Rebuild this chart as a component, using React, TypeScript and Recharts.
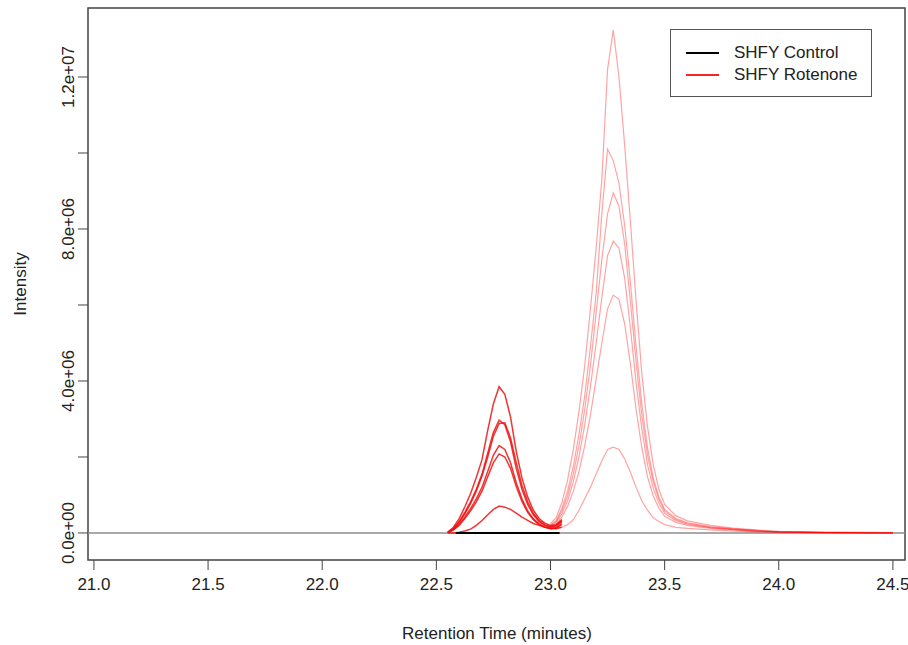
import { LineChart, Line, XAxis, YAxis, ReferenceLine, ReferenceArea } from "recharts";

// retention times (minutes) for the first feature window
const RT_FEATURE1 = [
  22.55, 22.575, 22.6, 22.625, 22.65, 22.675, 22.7, 22.725, 22.75, 22.775, 22.8,
  22.825, 22.85, 22.875, 22.9, 22.925, 22.95, 22.975, 23.0, 23.025, 23.05,
];

// rotenone intensities, feature 1 (x 1e6)
const ROT1_A = [0.02, 0.15, 0.38, 0.69, 1.04, 1.46, 1.93, 2.7, 3.4, 3.85, 3.65, 3.05, 2.15, 1.45, 0.95, 0.6, 0.38, 0.26, 0.2, 0.22, 0.35];
const ROT1_B = [0.02, 0.12, 0.3, 0.55, 0.82, 1.15, 1.55, 2.1, 2.65, 2.97, 2.85, 2.4, 1.7, 1.15, 0.75, 0.48, 0.3, 0.2, 0.16, 0.18, 0.3];
const ROT1_C = [0.01, 0.1, 0.28, 0.5, 0.78, 1.1, 1.5, 2.0, 2.55, 2.88, 2.9, 2.5, 1.85, 1.25, 0.82, 0.52, 0.33, 0.22, 0.17, 0.2, 0.32];
const ROT1_D = [0.01, 0.09, 0.23, 0.42, 0.64, 0.9, 1.2, 1.62, 2.05, 2.3, 2.2, 1.85, 1.32, 0.9, 0.58, 0.37, 0.24, 0.16, 0.12, 0.14, 0.25];
const ROT1_E = [0.01, 0.08, 0.2, 0.38, 0.58, 0.82, 1.1, 1.48, 1.85, 2.08, 2.0, 1.7, 1.22, 0.83, 0.54, 0.35, 0.22, 0.15, 0.11, 0.13, 0.22];
const ROT1_F = [0.0, 0.0, 0.02, 0.05, 0.1, 0.2, 0.33, 0.48, 0.62, 0.71, 0.68, 0.62, 0.52, 0.42, 0.33, 0.25, 0.2, 0.16, 0.13, 0.12, 0.15];

// control, feature 1 window
const RT_CONTROL = [22.585, 22.7, 22.8, 22.9, 23.0, 23.04];
const CONTROL = [0, 0, 0, 0, 0, 0];

// retention times for the second feature window
const RT_FEATURE2 = [
  23.0, 23.025, 23.05, 23.075, 23.1, 23.125, 23.15, 23.175, 23.2, 23.225, 23.25,
  23.275, 23.3, 23.325, 23.35, 23.375, 23.4, 23.425, 23.45, 23.475, 23.5, 23.55,
  23.6, 23.7, 23.8, 23.9, 24.0, 24.2, 24.5,
];

// rotenone intensities, feature 2 (x 1e6)
const ROT2_A = [0.25, 0.4, 0.8, 1.4, 2.2, 3.2, 4.4, 5.9, 7.5, 9.3, 12.2, 13.24, 12.0, 10.2, 8.2, 6.1, 4.2, 2.8, 1.8, 1.15, 0.75, 0.45, 0.32, 0.2, 0.13, 0.08, 0.04, 0.02, 0.01];
const ROT2_B = [0.22, 0.33, 0.65, 1.1, 1.75, 2.6, 3.6, 4.9, 6.3, 8.4, 10.1, 9.8, 9.2, 8.1, 6.6, 4.9, 3.4, 2.25, 1.45, 0.95, 0.62, 0.38, 0.27, 0.17, 0.11, 0.07, 0.03, 0.015, 0.01];
const ROT2_C = [0.2, 0.3, 0.58, 0.98, 1.55, 2.3, 3.25, 4.4, 5.8, 7.2, 8.4, 8.95, 8.6, 7.6, 6.1, 4.5, 3.1, 2.05, 1.35, 0.88, 0.58, 0.35, 0.25, 0.15, 0.1, 0.06, 0.03, 0.01, 0.0];
const ROT2_D = [0.18, 0.27, 0.5, 0.85, 1.35, 2.0, 2.85, 3.85, 5.0, 6.2, 7.3, 7.68, 7.5, 6.7, 5.4, 3.95, 2.75, 1.8, 1.18, 0.78, 0.52, 0.32, 0.23, 0.14, 0.09, 0.05, 0.03, 0.01, 0.0];
const ROT2_E = [0.15, 0.22, 0.42, 0.7, 1.1, 1.62, 2.3, 3.1, 4.05, 5.0, 5.9, 6.26, 6.15, 5.5, 4.45, 3.25, 2.25, 1.48, 0.98, 0.65, 0.44, 0.28, 0.2, 0.12, 0.08, 0.04, 0.02, 0.01, 0.0];
const ROT2_F = [0.1, 0.1, 0.15, 0.22, 0.35, 0.6, 0.9, 1.2, 1.55, 1.9, 2.2, 2.26, 2.2, 1.95, 1.6, 1.2, 0.85, 0.6, 0.4, 0.3, 0.22, 0.15, 0.12, 0.08, 0.05, 0.03, 0.02, 0.01, 0.0];

const X_TICKS = [21.0, 21.5, 22.0, 22.5, 23.0, 23.5, 24.0, 24.5];
const Y_TICKS = [0, 2, 4, 6, 8, 10, 12];
const Y_LABELED = [0, 4, 8, 12];

const X_DOMAIN: [number, number] = [20.974, 24.553];
const Y_DOMAIN: [number, number] = [-0.711, 13.816];

const FONT = "'Liberation Sans', Arial, sans-serif";
const TEXT = "#222";

const toPoints = (times: number[], values: number[]) =>
  times.map((t, i) => ({ t, v: values[i] }));

const feature1 = [ROT1_A, ROT1_B, ROT1_C, ROT1_D, ROT1_E, ROT1_F];
const feature2 = [ROT2_A, ROT2_B, ROT2_C, ROT2_D, ROT2_E, ROT2_F];

// R style scientific label, e.g. 4.0e+06
function sci(v: number) {
  const n = v * 1e6;
  if (n === 0) return "0.0e+00";
  const e = Math.floor(Math.log10(n));
  const m = n / Math.pow(10, e);
  return `${m.toFixed(1)}e+${String(e).padStart(2, "0")}`;
}

function YTick(props: any) {
  const { x, y, payload } = props;
  if (!Y_LABELED.includes(payload.value)) return null;
  return (
    <text
      x={x}
      y={y}
      transform={`rotate(-90, ${x}, ${y})`}
      textAnchor="middle"
      fontSize={17}
      fontFamily={FONT}
      fill={TEXT}
    >
      {sci(payload.value)}
    </text>
  );
}

export default function App() {
  return (
    <div
      style={{
        position: "fixed",
        left: 0,
        top: 0,
        width: 908,
        height: 645,
        background: "#fff",
        fontFamily: FONT,
      }}
    >
      <LineChart width={908} height={645} margin={{ top: 8, right: 3, bottom: 0, left: 0 }}>
        <XAxis
          type="number"
          dataKey="t"
          domain={X_DOMAIN}
          allowDataOverflow
          ticks={X_TICKS}
          tickFormatter={(v: number) => v.toFixed(1)}
          axisLine={false}
          tickSize={10}
          tickMargin={8}
          height={85}
          tick={{ fontSize: 17, fill: TEXT, fontFamily: FONT }}
          tickLine={{ stroke: "#444" }}
          label={{
            content: () => (
              <text x={497} y={639} textAnchor="middle" fontSize={17} fontFamily={FONT} fill={TEXT}>
                Retention Time (minutes)
              </text>
            ),
          }}
        />
        <YAxis
          type="number"
          domain={Y_DOMAIN}
          allowDataOverflow
          ticks={Y_TICKS}
          width={88}
          axisLine={false}
          tickSize={10}
          tickMargin={4}
          tick={<YTick />}
          tickLine={{ stroke: "#444" }}
          label={{
            content: () => (
              <text
                x={26}
                y={284}
                transform="rotate(-90, 26, 284)"
                textAnchor="middle"
                fontSize={17}
                fontFamily={FONT}
                fill={TEXT}
              >
                Intensity
              </text>
            ),
          }}
        />
        <ReferenceLine y={0} stroke="#8c8c8c" strokeWidth={1.5} />
        {feature2.map((vals, i) => (
          <Line
            key={`f2-${i}`}
            data={toPoints(RT_FEATURE2, vals)}
            dataKey="v"
            stroke="#ff0000"
            strokeOpacity={0.36}
            strokeWidth={1.2}
            dot={false}
            isAnimationActive={false}
          />
        ))}
        {feature1.map((vals, i) => (
          <Line
            key={`f1-${i}`}
            data={toPoints(RT_FEATURE1, vals)}
            dataKey="v"
            stroke="#ee1111"
            strokeOpacity={0.85}
            strokeWidth={1.5}
            dot={false}
            isAnimationActive={false}
          />
        ))}
        <Line
          data={toPoints(RT_CONTROL, CONTROL)}
          dataKey="v"
          stroke="#000"
          strokeWidth={1.8}
          dot={false}
          isAnimationActive={false}
        />
        <ReferenceArea
          x1={X_DOMAIN[0]}
          x2={X_DOMAIN[1]}
          y1={Y_DOMAIN[0]}
          y2={Y_DOMAIN[1]}
          fill="none"
          fillOpacity={0}
          stroke="#444"
          strokeWidth={1.5}
          ifOverflow="visible"
        />
      </LineChart>
      <div
        style={{
          position: "absolute",
          left: 670,
          top: 29,
          width: 202,
          height: 68,
          boxSizing: "border-box",
          border: "1.5px solid #555",
          background: "#fff",
          fontSize: 17,
          color: TEXT,
        }}
      >
        {[
          { name: "SHFY Control", color: "#000" },
          { name: "SHFY Rotenone", color: "#ff2222" },
        ].map((item, i) => (
          <div
            key={item.name}
            style={{ position: "absolute", left: 15, top: 12 + i * 22, height: 22, display: "flex", alignItems: "center" }}
          >
            <span style={{ display: "inline-block", width: 33, height: 1.5, background: item.color }} />
            <span style={{ marginLeft: 15, lineHeight: "22px" }}>{item.name}</span>
          </div>
        ))}
      </div>
    </div>
  );
}
